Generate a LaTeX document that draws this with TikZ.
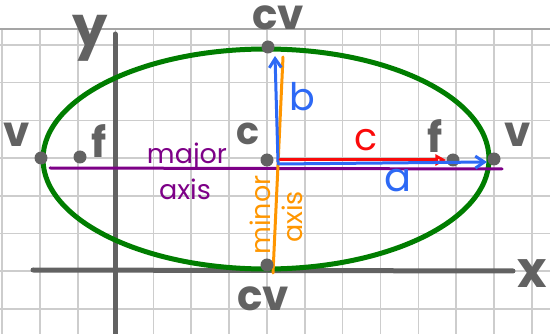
\documentclass[tikz,border=0pt]{standalone}
\usepackage{fontspec}
\setsansfont{Poppins}
\usetikzlibrary{arrows.meta}
\definecolor{gridgray}{RGB}{205,205,205}
\definecolor{gridedge}{RGB}{165,165,165}
\definecolor{pengray}{RGB}{98,98,98}
\definecolor{pengreen}{RGB}{0,125,0}
\definecolor{penblue}{RGB}{45,105,245}
\definecolor{penred}{RGB}{250,10,10}
\definecolor{penorange}{RGB}{255,150,0}
\definecolor{penpurple}{RGB}{125,0,135}

\tikzset{
  dot/.style={circle, fill=pengray, inner sep=0pt, minimum size=13pt},
  graylbl/.style={pengray, font=\sffamily\bfseries\fontsize{42}{42}\selectfont},
  smalllbl/.style={font=\sffamily\fontsize{27}{27}\selectfont},
}

\begin{document}
\begin{tikzpicture}[x=1pt, y=-1pt, line cap=round, line join=round]
    \useasboundingbox (0,0) rectangle (550,334);
    % grid paper
    \foreach \k in {0,...,14} {
      \draw[gridgray, line width=1.6pt] ({2+37.85*\k},29) -- ({2+37.85*\k},334);
    }
    \foreach \k in {0,...,7} {
      \draw[gridgray, line width=1.6pt] (0,{45+37.7*\k}) -- (550,{45+37.7*\k});
    }
    \draw[gridedge, line width=1.6pt] (0,29) -- (550,29);
    % axes
    \coordinate (xstart) at (33,270);
    \coordinate (xend) at (513,271);
    \coordinate (ystart) at (115,334);
    \coordinate (yend) at (115,34);
    \draw[pengray, line width=5pt] (xstart) -- (xend);
    \draw[pengray, line width=5pt] (ystart) -- (yend);
    \node (xlbl) at (532,274) [graylbl, font=\sffamily\bfseries\fontsize{50}{50}\selectfont] {x};
    \node (ylbl) at (90,38) [graylbl, font=\sffamily\bfseries\fontsize{56}{56}\selectfont] {y};
    % ellipse
    \coordinate (ctr) at (266,159);
    \draw[pengreen, line width=5pt] (ctr) ellipse [x radius=223, y radius=110];
    % major and minor axes
    \coordinate (majL) at (50,168);
    \coordinate (majR) at (502,169);
    \coordinate (minT) at (283,57);
    \coordinate (minB) at (273,273);
    \draw[penpurple, line width=3pt] (majL) -- (majR);
    \draw[penorange, line width=3pt] (minT) -- (minB);
    \node (major) at (187,157) [smalllbl, penpurple] {major};
    \node (majaxis) at (185,189) [smalllbl, penpurple] {axis};
    \node (minor) at (260,215) [smalllbl, penorange, rotate=90] {minor};
    \node (minaxis) at (292,217) [smalllbl, penorange, rotate=90] {axis};
    % points
    \node (vL) at (41,158) [dot] {};
    \node (fL) at (80,157) [dot] {};
    \node (cC) at (267,160) [dot] {};
    \node (fR) at (453,160) [dot] {};
    \node (vR) at (494,159) [dot] {};
    \node (cvT) at (268,47) [dot] {};
    \node (cvB) at (267,265) [dot] {};
    \node (vLlbl) at (17,135) [graylbl] {v};
    \node (fLlbl) at (99,141) [graylbl] {f};
    \node (cClbl) at (248,134) [graylbl, font=\sffamily\bfseries\fontsize{38}{38}\selectfont] {c};
    \node (fRlbl) at (435,136) [graylbl] {f};
    \node (vRlbl) at (518,135) [graylbl] {v};
    \node (cvTlbl) at (278,18) [graylbl] {cv};
    \node (cvBlbl) at (263,299) [graylbl] {cv};
    % a, b, c
    \coordinate (bstart) at (278,162);
    \coordinate (bend) at (275,56);
    \coordinate (cstart) at (280,160);
    \coordinate (astart) at (278,164);
    \coordinate (aend) at (487,162);
    \draw[-{Straight Barb[length=9pt, width=12pt]}, penblue, line width=3pt] (bstart) -- (bend);
    \draw[-{Triangle[open, length=11pt, width=11pt]}, penred, line width=3pt] (cstart) -- (fR.west);
    \draw[-{Straight Barb[length=9pt, width=12pt]}, penblue, line width=3pt] (astart) -- (aend);
    \node (blbl) at (302,97) [penblue, font=\sffamily\fontsize{38}{38}\selectfont] {b};
    \node (clbl) at (366,140) [penred, font=\sffamily\fontsize{38}{38}\selectfont] {c};
    \node (albl) at (398,181) [penblue, font=\sffamily\fontsize{40}{40}\selectfont] {a};
  \end{tikzpicture}
\end{document}
